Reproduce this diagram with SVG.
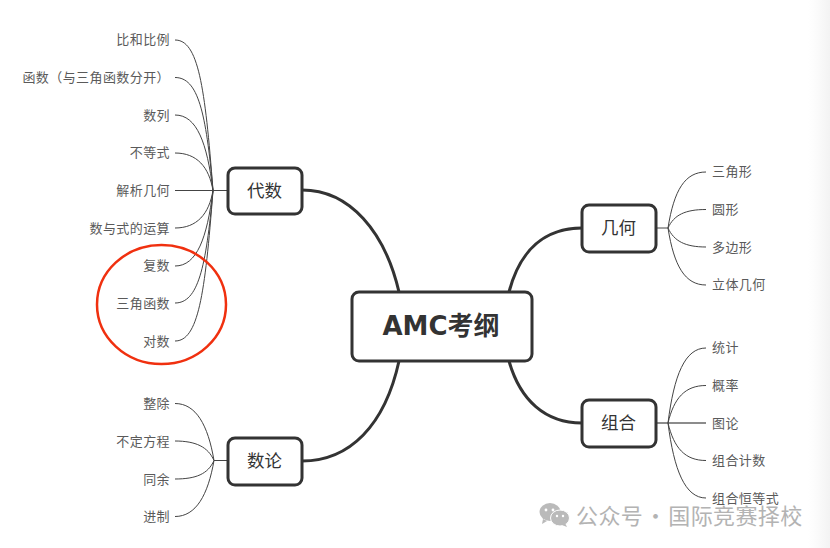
<svg xmlns="http://www.w3.org/2000/svg" width="830" height="548" viewBox="0 0 830 548">
<defs>
<linearGradient id="edge" x1="0" x2="1" y1="0" y2="0"><stop offset="0" stop-color="#f6f6f6" stop-opacity="0"/><stop offset="1" stop-color="#f3f3f3"/></linearGradient>
</defs>
<style>
text{font-family:"Noto Sans CJK SC","Noto Sans",sans-serif}
.leaf{font-size:13px;fill:#5a5a5a;letter-spacing:.42px;dominant-baseline:central}
.l{text-anchor:end}
.box{fill:#fff;stroke:#333;stroke-width:3}
.t{font-size:17.500px;fill:#333;text-anchor:middle;dominant-baseline:central}
.main{fill:none;stroke:#333;stroke-width:3}
.thin{fill:none;stroke:#444;stroke-width:1}
</style>
<rect width="830" height="548" fill="#fff"/>
<rect x="808" width="22" height="548" fill="url(#edge)"/>
<g id="connectors">
<path class="main" d="M399 292C385 232 350 190 302 190"/>
<path class="main" d="M399 361C385 425 350 461 302 461"/>
<path class="main" d="M509 292C520 250 545 228 582 228"/>
<path class="main" d="M509 361C520 400 545 423 582 423"/>
<g class="thin">
<path d="M175 40C198 40 205 85 213 190.500"/>
<path d="M175 77.500C198 77.500 206 112 213 190.500"/>
<path d="M175 115C197 115 207 143 213 190.500"/>
<path d="M175 153C197 153 209 167 213 190.500"/>
<path d="M175 190.500H228"/>
<path d="M175 228C197 228 209 214 213 190.500"/>
<path d="M175 266C197 266 207 238 213 190.500"/>
<path d="M175 303C198 303 206 268 213 190.500"/>
<path d="M175 341C198 341 205 296 213 190.500"/>
<path d="M175 403.500C196 403.500 208 425 214 460.500"/>
<path d="M175 441C196 441 208 447 214 460.500"/>
<path d="M175 479C196 479 208 474 214 460.500"/>
<path d="M175 516.500C196 516.500 208 495 214 460.500"/>
<path d="M214 460.500H228"/>
<path d="M656 228H668"/>
<path d="M706 172C685 172 674 190 668 228"/>
<path d="M706 209.500C685 209.500 674 215 668 228"/>
<path d="M706 247C685 247 674 241 668 228"/>
<path d="M706 285C685 285 674 266 668 228"/>
<path d="M656 423H706" stroke="#666" stroke-width="1.300"/>
<path d="M706 348C685 348 674 375 668 423"/>
<path d="M706 385.500C685 385.500 674 398 668 423"/>
<path d="M706 460.500C685 460.500 674 448 668 423"/>
<path d="M706 498C685 498 674 470 668 423"/>
</g>
</g>
<g id="center"><rect class="box" x="352" y="292" width="180" height="69" rx="7"/><text x="441" y="326" font-size="26" font-weight="700" fill="#333" text-anchor="middle" dominant-baseline="central" style="font-family:'DejaVu Sans','Noto Sans CJK SC',sans-serif">AMC考纲</text></g>
<g id="daishu"><rect class="box" x="228" y="168" width="74" height="46" rx="7"/><text class="t" x="264.500" y="189">代数</text></g>
<g id="shulun"><rect class="box" x="228" y="438" width="74" height="47" rx="7"/><text class="t" x="264.500" y="459">数论</text></g>
<g id="jihe"><rect class="box" x="582" y="205" width="74" height="47" rx="7"/><text class="t" x="618.500" y="226">几何</text></g>
<g id="zuhe"><rect class="box" x="582" y="400" width="74" height="47" rx="7"/><text class="t" x="618.500" y="421">组合</text></g>
<g id="leaves-daishu">
<text class="leaf l" x="170" y="38.500">比和比例</text>
<text class="leaf l" x="170" y="76">函数（与三角函数分开）</text>
<text class="leaf l" x="170" y="114">数列</text>
<text class="leaf l" x="170" y="151.500">不等式</text>
<text class="leaf l" x="170" y="189">解析几何</text>
<text class="leaf l" x="170" y="227">数与式的运算</text>
<text class="leaf l" x="170" y="264.500">复数</text>
<text class="leaf l" x="170" y="302">三角函数</text>
<text class="leaf l" x="170" y="340">对数</text>
</g>
<g id="leaves-shulun">
<text class="leaf l" x="170" y="402.500">整除</text>
<text class="leaf l" x="170" y="440">不定方程</text>
<text class="leaf l" x="170" y="478">同余</text>
<text class="leaf l" x="170" y="515.500">进制</text>
</g>
<g id="leaves-jihe">
<text class="leaf" x="712" y="170.500">三角形</text>
<text class="leaf" x="712" y="208">圆形</text>
<text class="leaf" x="712" y="246">多边形</text>
<text class="leaf" x="712" y="283.500">立体几何</text>
</g>
<g id="leaves-zuhe">
<text class="leaf" x="712" y="346.500">统计</text>
<text class="leaf" x="712" y="384">概率</text>
<text class="leaf" x="712" y="422">图论</text>
<text class="leaf" x="712" y="459.500">组合计数</text>
<text class="leaf" x="712" y="497">组合恒等式</text>
</g>
<ellipse id="highlight" cx="161.500" cy="304.500" rx="64.500" ry="59.500" fill="none" stroke="#f0300f" stroke-width="2.500"/>
<g id="watermark" opacity=".92">
<ellipse cx="550" cy="512" rx="10.500" ry="9" fill="#b5b5b5"/>
<path d="M543 519l-1 5 5-3z" fill="#b5b5b5"/>
<ellipse cx="560" cy="518" rx="9.500" ry="8" fill="#b5b5b5" stroke="#fff" stroke-width="1"/>
<path d="M565 523l2 4-5-2z" fill="#b5b5b5"/>
<g fill="#fff"><circle cx="546" cy="510" r="1.400"/><circle cx="553" cy="510" r="1.400"/><circle cx="557" cy="516" r="1.200"/><circle cx="563" cy="516" r="1.200"/></g>
<text x="576" y="514" font-size="22" fill="#adadad" word-spacing="-4" letter-spacing=".4" dominant-baseline="central">公众号 · 国际竞赛择校</text>
</g>
</svg>
